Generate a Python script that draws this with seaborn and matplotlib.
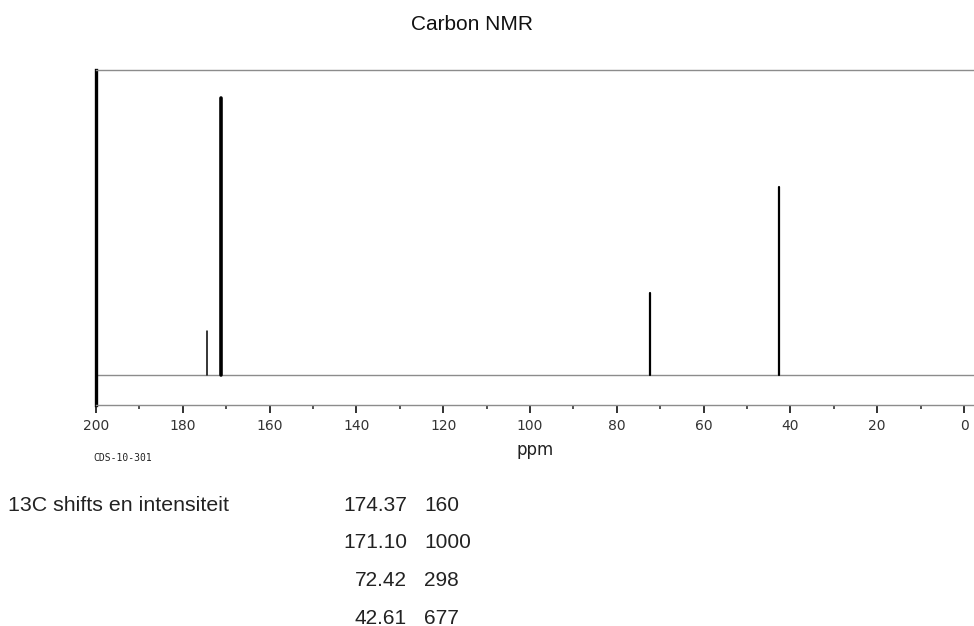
import numpy as np
import pandas as pd
import matplotlib
matplotlib.use("Agg")
import matplotlib.pyplot as plt
from matplotlib.ticker import MultipleLocator, FixedLocator
import seaborn as sns

# ---- data ----
shifts = [174.37, 171.10, 72.42, 42.61]
intensities = [160, 1000, 298, 677]
shift_labels = ["174.37", "171.10", "72.42", "42.61"]
intensity_labels = ["160", "1000", "298", "677"]
x_ticks = [200, 180, 160, 140, 120, 100, 80, 60, 40, 20, 0]
x_tick_labels = ["200", "180", "160", "140", "120", "100", "80", "60", "40", "20", "0"]
title = "Carbon NMR"
xlabel = "ppm"
sample_id = "CDS-10-301"
table_header = "13C shifts en intensiteit"

# stick spectrum table: each peak is a vertical segment from 0 to its intensity
rows = []
for i, (s, h) in enumerate(zip(shifts, intensities)):
    rows.append({"peak": i, "ppm": s, "intensity": 0})
    rows.append({"peak": i, "ppm": s, "intensity": h})
df = pd.DataFrame(rows)

sns.set_theme(style="white")
plt.rcParams["font.family"] = ["Liberation Sans", "DejaVu Sans"]

W, H = 974, 626
fig = plt.figure(figsize=(W / 100, H / 100), dpi=100)
ax = fig.add_axes([96 / W, 1 - 405 / H, (974 - 96) / W, (405 - 70) / H])

# baseline
ax.axhline(0, color="#8c8c8c", lw=1.0, zorder=1)

n_before = len(ax.lines)
sns.lineplot(data=df, x="ppm", y="intensity", units="peak", estimator=None,
             sort=False, color="black", lw=1.6, ax=ax, legend=False, zorder=3)
peak_lines = ax.lines[n_before:]
peak_widths = [1.1, 2.6, 1.6, 1.6]
for line, w in zip(peak_lines, peak_widths):
    line.set_linewidth(w)

ax.set_xlim(200, -2.3)
ax.set_ylim(-108, 1101)

ax.xaxis.set_major_locator(FixedLocator(x_ticks))
ax.set_xticklabels(x_tick_labels, fontsize=10, family="DejaVu Sans", color="#333333")
ax.xaxis.set_minor_locator(MultipleLocator(10))
ax.tick_params(axis="x", which="major", direction="out", length=6, width=1.3,
               color="#222222", pad=4, bottom=True)
ax.tick_params(axis="x", which="minor", direction="out", length=3, width=1.1,
               color="#222222", bottom=True)
ax.set_yticks([])
ax.set_xlabel(xlabel, fontsize=12, family="DejaVu Sans", color="#222222", labelpad=6)
ax.set_ylabel("")

for side in ["top", "bottom"]:
    ax.spines[side].set_color("#8c8c8c")
    ax.spines[side].set_linewidth(1.0)
ax.spines["right"].set_visible(False)
ax.spines["left"].set_color("black")
ax.spines["left"].set_linewidth(2.4)

def px(x, y):
    return x / W, 1 - y / H

fig.text(*px(472, 30), title, ha="center", va="baseline", fontsize=15, color="#111111")
fig.text(*px(93, 461), sample_id, ha="left", va="baseline", fontsize=7,
         family="DejaVu Sans Mono", color="#222222")

fig.text(*px(8, 511), table_header, ha="left", va="baseline", fontsize=15.4, color="#222222")
baselines = [511, 548.5, 585.5, 623.5]
for b, s_lab, i_lab in zip(baselines, shift_labels, intensity_labels):
    fig.text(*px(407, b), s_lab, ha="right", va="baseline", fontsize=15, color="#222222")
    fig.text(*px(424, b), i_lab, ha="left", va="baseline", fontsize=15, color="#222222")

fig.savefig("out.png", dpi=100)
